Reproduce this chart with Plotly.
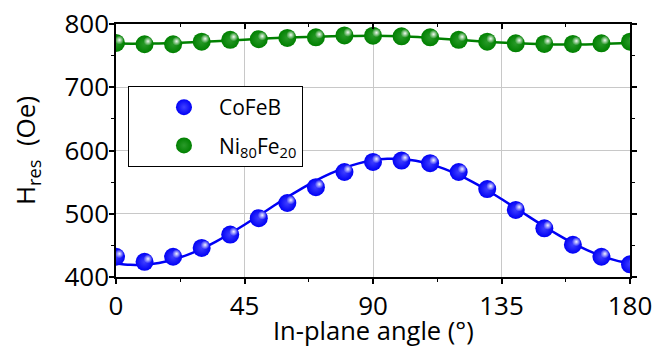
import plotly.graph_objects as go

# ---- data ----
angles = [0, 10, 20, 30, 40, 50, 60, 70, 80, 90, 100, 110, 120, 130, 140, 150, 160, 170, 180]
cofeb = [432, 424, 432, 446, 467, 493, 517, 542, 566, 582, 584, 580, 566, 539, 506, 477, 451, 432, 420]
nife = [770, 768, 768, 772, 775, 776, 778, 779, 782, 781.5, 780.5, 779, 775, 772, 769.5, 768.5, 768.5, 769.5, 772]

fit_angles = [0, 5, 10, 15, 20, 25, 30, 35, 40, 45, 50, 55, 60, 65, 70, 75, 80, 85, 90,
              95, 100, 105, 110, 115, 120, 125, 130, 135, 140, 145, 150, 155, 160, 165, 170, 175, 180]
cofeb_fit = [421.5, 419.2, 419.5, 422.3, 427.5, 435.0, 444.6, 456.0, 468.8, 482.7, 497.1, 511.8,
             526.2, 539.8, 552.4, 563.4, 572.6, 579.7, 584.5, 586.8, 586.5, 583.7, 578.5, 571.0,
             561.4, 550.0, 537.2, 523.3, 508.9, 494.2, 479.8, 466.2, 453.6, 442.6, 433.4, 426.3, 421.5]
nife_fit_angles = [0, 10, 20, 30, 40, 50, 60, 70, 80, 90, 100, 110, 120, 130, 140, 150, 160, 170, 180]
nife_fit = [769, 769, 770, 772, 774, 776.5, 778.5, 780, 781, 781.5, 780.5, 778, 775, 772, 769.5,
            768, 767.5, 768.5, 770.5]

x_ticks = [0, 45, 90, 135, 180]
y_ticks = [400, 500, 600, 700, 800]
x_title = "In-plane angle (°)"
y_title = "H<sub>res</sub>&nbsp;&nbsp;(Oe)"

BLUE = "#0000f5"
GREEN = "#008000"
FONT = "Open Sans"

fig = go.Figure()

# fit lines (drawn beneath markers)
fig.add_trace(go.Scatter(x=fit_angles, y=cofeb_fit, mode="lines", line=dict(color=BLUE, width=2.5, shape="spline"),
                         showlegend=False, hoverinfo="skip"))
fig.add_trace(go.Scatter(x=nife_fit_angles, y=nife_fit, mode="lines", line=dict(color=GREEN, width=2.5, shape="spline"),
                         showlegend=False, hoverinfo="skip"))

# data markers
fig.add_trace(go.Scatter(x=angles, y=cofeb, mode="markers", name="CoFeB", legendgroup="a",
                         marker=dict(size=18, color=BLUE, line=dict(width=0),
                                     gradient=dict(type="radial", color="#4040ff"))))
fig.add_trace(go.Scatter(x=angles, y=nife, mode="markers", name="Ni<sub>80</sub>Fe<sub>20</sub>", legendgroup="b",
                         marker=dict(size=18, color=GREEN, line=dict(width=0),
                                     gradient=dict(type="radial", color="#2a9a2a"))))

# specular highlights on a slightly shifted overlay axis pair
for vals in (cofeb, nife):
    fig.add_trace(go.Scatter(x=angles, y=vals, mode="markers", xaxis="x3", yaxis="y3",
                             showlegend=False, hoverinfo="skip",
                             marker=dict(size=9, color="rgba(255,255,255,0)", line=dict(width=0),
                                         gradient=dict(type="radial", color="rgba(255,255,255,0.95)"))))

# invisible trace to host the top axis
fig.add_trace(go.Scatter(x=angles, y=cofeb, mode="markers", xaxis="x2", marker=dict(opacity=0),
                         showlegend=False, hoverinfo="skip"))

W, H = 654, 347
ml, mr, mt, mb = 116, 24, 24, 70
pw, ph = W - ml - mr, H - mt - mb
dx = 3.5 * 180 / pw
dy = 3.0 * 400 / ph

fig.update_layout(
    width=W, height=H,
    margin=dict(l=ml, r=mr, t=mt, b=mb),
    plot_bgcolor="white", paper_bgcolor="white",
    font=dict(family=FONT, color="black", size=26),
    xaxis=dict(range=[0, 180], tickvals=x_ticks, ticks="outside", ticklen=5, tickwidth=1.5, tickcolor="black",
               showline=True, linewidth=1.5, linecolor="black", mirror=True,
               showgrid=True, gridcolor="#c8c8c8", gridwidth=1, zeroline=False,
               minor=dict(dtick=22.5, tick0=0, ticks="outside", ticklen=3, tickwidth=1.2, tickcolor="black", showgrid=False),
               tickfont=dict(size=26), automargin=False),
    xaxis2=dict(overlaying="x", side="top", matches="x", ticks="inside", ticklen=5, tickwidth=1.5, tickcolor="black",
                tickvals=x_ticks, showticklabels=False, showgrid=False, showline=False, zeroline=False,
                minor=dict(dtick=22.5, tick0=0, ticks="inside", ticklen=3, tickwidth=1.2, tickcolor="black"),
                automargin=False),
    yaxis=dict(range=[400, 800], tickvals=y_ticks, ticks="outside", ticklen=5, tickwidth=1.5, tickcolor="black",
               showline=True, linewidth=1.5, linecolor="black", mirror="ticks",
               showgrid=True, gridcolor="#c8c8c8", gridwidth=1, zeroline=False,
               minor=dict(dtick=50, tick0=400, ticks="outside", ticklen=3, tickwidth=1.2, tickcolor="black", showgrid=False),
               tickfont=dict(size=26), automargin=False, ticklabelstandoff=-5,
               title=dict(text=y_title, font=dict(size=26), standoff=21)),
    xaxis3=dict(overlaying="x", range=[0 - dx, 180 - dx], visible=False),
    yaxis3=dict(overlaying="y", range=[400 - dy, 800 - dy], visible=False),
    legend=dict(x=0.0233, y=0.755, xanchor="left", yanchor="top", bgcolor="white",
                bordercolor="black", borderwidth=1, font=dict(size=21, family=FONT),
                itemsizing="trace", indentation=20, itemwidth=60, tracegroupgap=8),
    showlegend=True,
    annotations=[dict(text=x_title, xref="paper", yref="paper", x=0.5, y=-(330 - 277) / ph,
                      xanchor="center", yanchor="middle", showarrow=False,
                      font=dict(size=25.5, family=FONT, color="black"))],
)

fig.write_html("out.html")
